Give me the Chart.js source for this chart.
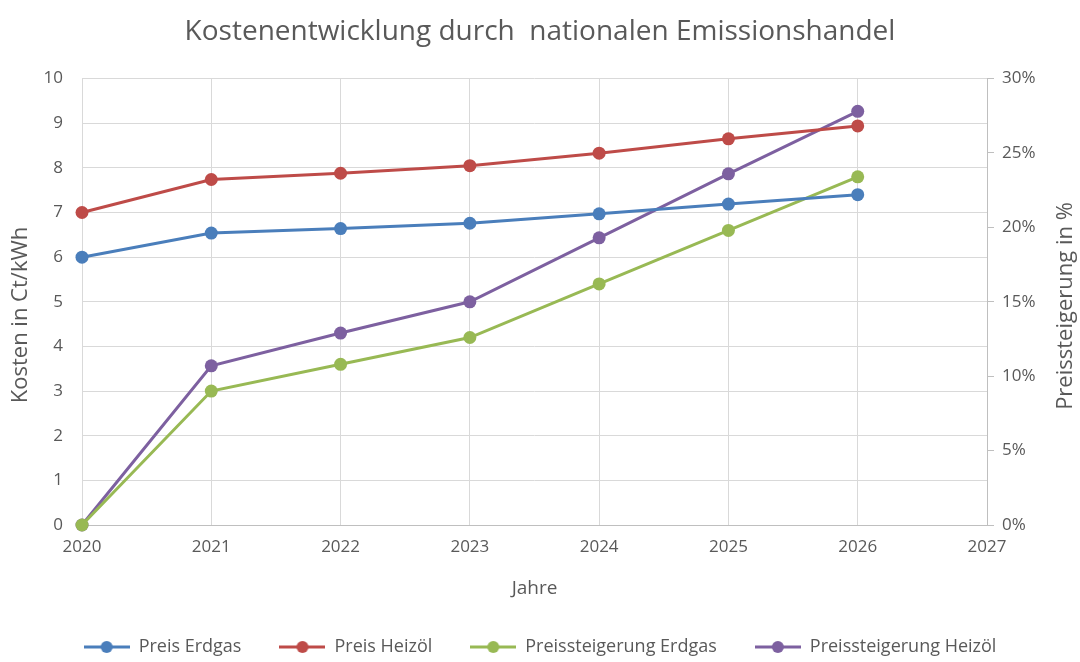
<!DOCTYPE html>
<html>
<head>
<meta charset="utf-8">
<script src="https://cdn.jsdelivr.net/npm/chart.js@4/dist/chart.umd.min.js"></script>
<style>
  html, body { margin: 0; padding: 0; background: #ffffff; }
  #wrap { width: 1080px; height: 662px; position: relative; }
</style>
</head>
<body>
<div id="wrap"><canvas id="c"></canvas></div>
<script>
const years = [2020, 2021, 2022, 2023, 2024, 2025, 2026];
const preisErdgas = [6.0, 6.54, 6.64, 6.76, 6.97, 7.19, 7.40];
const preisHeizoel = [7.0, 7.74, 7.88, 8.05, 8.33, 8.65, 8.94];
const steigErdgas = [0, 9.0, 10.8, 12.6, 16.2, 19.8, 23.4];   // %
const steigHeizoel = [0, 10.7, 12.9, 15.0, 19.3, 23.6, 27.8]; // %
const seriesNames = ['Preis Erdgas', 'Preis Heizöl', 'Preissteigerung Erdgas', 'Preissteigerung Heizöl'];
const leftTitle = 'Kosten in Ct/kWh';
const rightTitle = 'Preissteigerung in %';
const colors = ['#4a7ebb', '#be4b48', '#98b954', '#7d60a0'];
const xMin = 2020, xMax = 2027;
const leftMax = 10, rightMax = 30;

const FONT = "'Open Sans', 'DejaVu Sans', sans-serif";
const TXT = '#595959';

function toXY(vals) { return vals.map((v, i) => ({ x: years[i], y: v })); }

function legendIcon(color) {
  const cv = document.createElement('canvas');
  cv.width = 46; cv.height = 14;
  const g = cv.getContext('2d');
  g.strokeStyle = color; g.lineWidth = 3;
  g.beginPath(); g.moveTo(0, 7); g.lineTo(46, 7); g.stroke();
  g.fillStyle = color;
  g.beginPath(); g.arc(23, 7, 6, 0, Math.PI * 2); g.fill();
  return cv;
}
const icons = colors.map(legendIcon);

function ds(i, vals, axis) {
  return {
    label: seriesNames[i],
    data: toXY(vals),
    yAxisID: axis,
    borderColor: colors[i],
    backgroundColor: colors[i],
    borderWidth: 3,
    pointRadius: 6.5,
    pointBorderWidth: 0,
    pointBackgroundColor: colors[i],
    tension: 0,
    fill: false,
    clip: false
  };
}

// vertical axis titles, both reading bottom-to-top
const axisTitles = {
  id: 'axisTitles',
  afterDraw(chart) {
    const { ctx } = chart;
    const draw = (text, x, y) => {
      ctx.save();
      ctx.fillStyle = TXT;
      ctx.font = "22px " + FONT;
      ctx.textAlign = 'center';
      ctx.textBaseline = 'middle';
      ctx.translate(x, y);
      ctx.rotate(-Math.PI / 2);
      ctx.fillText(text, 0, 0);
      ctx.restore();
    };
    draw(leftTitle, 21, 315);
    draw(rightTitle, 1066, 306);
  }
};

new Chart(document.getElementById('c'), {
  type: 'line',
  data: {
    datasets: [
      ds(0, preisErdgas, 'y'),
      ds(1, preisHeizoel, 'y'),
      ds(2, steigErdgas, 'y2'),
      ds(3, steigHeizoel, 'y2')
    ]
  },
  plugins: [axisTitles],
  options: {
    responsive: true,
    maintainAspectRatio: false,
    animation: false,
    layout: { padding: { left: 0, right: 0, top: 0, bottom: -4 } },
    plugins: {
      title: {
        display: true,
        text: 'Kostenentwicklung durch  nationalen Emissionshandel',
        color: TXT,
        font: { family: FONT, size: 28, weight: 'normal' },
        padding: { top: 15, bottom: 30 }
      },
      legend: {
        position: 'bottom',
        labels: {
          color: TXT,
          font: { family: FONT, size: 18 },
          usePointStyle: true,
          pointStyleWidth: 46,
          padding: 38,
          generateLabels(chart) {
            const items = Chart.defaults.plugins.legend.labels.generateLabels(chart);
            items.forEach(it => { it.pointStyle = icons[it.datasetIndex]; });
            return items;
          }
        }
      },
      tooltip: { enabled: false }
    },
    scales: {
      x: {
        type: 'linear',
        min: xMin, max: xMax,
        afterFit(s) { s.height = 75; },
        ticks: {
          stepSize: 1,
          color: TXT,
          font: { family: FONT, size: 17 },
          padding: 12,
          callback: v => String(v)
        },
        grid: { color: '#d9d9d9', drawTicks: false },
        border: { display: true, color: '#bfbfbf' },
        title: {
          display: true, text: 'Jahre', color: TXT,
          font: { family: FONT, size: 19 },
          padding: { top: 0, bottom: 0 }
        }
      },
      y: {
        position: 'left',
        min: 0, max: leftMax,
        afterFit(s) { s.width = 82; },
        ticks: {
          stepSize: 1, color: TXT,
          font: { family: FONT, size: 17 },
          padding: 19
        },
        grid: { color: '#d9d9d9', drawTicks: false },
        border: { display: false }
      },
      y2: {
        position: 'right',
        min: 0, max: rightMax,
        afterFit(s) { s.width = 93; },
        ticks: {
          stepSize: 5, color: TXT,
          font: { family: FONT, size: 17 },
          padding: 8,
          callback: v => v + '%'
        },
        grid: { drawOnChartArea: false, drawTicks: true, tickLength: 7, color: '#bfbfbf' },
        border: { display: true, color: '#bfbfbf' }
      }
    }
  }
});
</script>
</body>
</html>
